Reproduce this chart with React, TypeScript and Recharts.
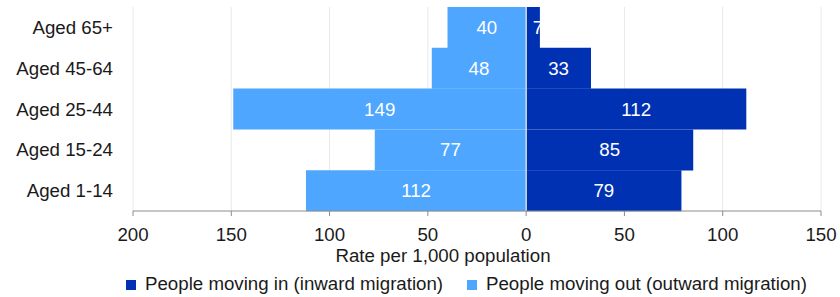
import {
    BarChart,
    Bar,
    XAxis,
    YAxis,
    CartesianGrid,
    Legend,
    LabelList,
    ReferenceLine,
    Label
} from 'recharts'

const categories = ['Aged 65+', 'Aged 45-64', 'Aged 25-44', 'Aged 15-24', 'Aged 1-14']
const inward = [7, 33, 112, 85, 79]
const outward = [40, 48, 149, 77, 112]
const xTicks = [-200, -150, -100, -50, 0, 50, 100, 150]

const IN_COLOR = '#0031b3'
const OUT_COLOR = '#4ea6ff'
const FONT = 18.7

const data = categories.map((name, i) => ({
    name,
    inward: inward[i],
    outward: -outward[i]
}))

const abs = (v: any) => Math.abs(Number(v))

// centred white value; tiny bars get their label pushed a bit right
function BarValue(props: any) {
    const { x, y, width, height, value } = props
    const w = Math.abs(Number(width))
    const left = Math.min(Number(x), Number(x) + Number(width))
    let cx = left + w / 2
    if (w < 20) cx += 5
    return (
        <text
            x={cx}
            y={Number(y) + Number(height) / 2}
            textAnchor="middle"
            dominantBaseline="central"
            fill="#ffffff"
            fontSize={FONT}
        >
            {abs(value)}
        </text>
    )
}

function MigrationLegend() {
    const items = [
        { label: 'People moving in (inward migration)', color: IN_COLOR, sq: 126, tx: 145 },
        { label: 'People moving out (outward migration)', color: OUT_COLOR, sq: 467, tx: 486 }
    ]
    return (
        <div style={{ position: 'relative', height: 30, width: 840 }}>
            {items.map((it) => (
                <div key={it.label}>
                    <div
                        style={{
                            position: 'absolute',
                            left: it.sq,
                            top: 13,
                            width: 10,
                            height: 10,
                            background: it.color
                        }}
                    />
                    <span
                        style={{
                            position: 'absolute',
                            left: it.tx,
                            top: 6,
                            fontSize: FONT,
                            lineHeight: '22px',
                            color: '#1a1a1a',
                            whiteSpace: 'nowrap'
                        }}
                    >
                        {it.label}
                    </span>
                </div>
            ))}
        </div>
    )
}

export default function App() {
    return (
        <div
            style={{
                position: 'absolute',
                left: 0,
                top: 0,
                width: 840,
                height: 297,
                fontFamily: '"Liberation Sans", Arial, sans-serif',
                background: '#fff'
            }}
        >
            <BarChart
                width={840}
                height={297}
                data={data}
                layout="vertical"
                stackOffset="sign"
                barCategoryGap={0}
                margin={{ top: 7, right: 19, bottom: 0, left: 0 }}
            >
                <CartesianGrid horizontal={false} stroke="#e8e8e8" />
                <XAxis
                    type="number"
                    domain={[-200, 150]}
                    ticks={xTicks}
                    tickFormatter={abs}
                    height={56}
                    interval={0}
                    stroke="#8c8c8c"
                    tickSize={5}
                    tickMargin={12}
                    tick={{ fill: '#1a1a1a', fontSize: FONT }}
                >
                    <Label
                        content={() => (
                            <text
                                x={443}
                                y={262}
                                textAnchor="middle"
                                fill="#1a1a1a"
                                fontSize={FONT}
                            >
                                Rate per 1,000 population
                            </text>
                        )}
                    />
                </XAxis>
                <YAxis
                    type="category"
                    dataKey="name"
                    width={133}
                    axisLine={false}
                    tickLine={false}
                    tickSize={0}
                    tickMargin={20}
                    tick={{ fill: '#1a1a1a', fontSize: FONT }}
                />
                <Bar dataKey="inward" stackId="a" fill={IN_COLOR} isAnimationActive={false}>
                    <LabelList dataKey="inward" content={BarValue} />
                </Bar>
                <Bar dataKey="outward" stackId="a" fill={OUT_COLOR} isAnimationActive={false}>
                    <LabelList dataKey="outward" content={BarValue} />
                </Bar>
                <ReferenceLine x={0} stroke="#d6dbe6" strokeWidth={1.5} />
                <Legend
                    verticalAlign="bottom"
                    content={() => <MigrationLegend />}
                    wrapperStyle={{ left: 0, width: 840, height: 30 }}
                />
            </BarChart>
        </div>
    )
}
